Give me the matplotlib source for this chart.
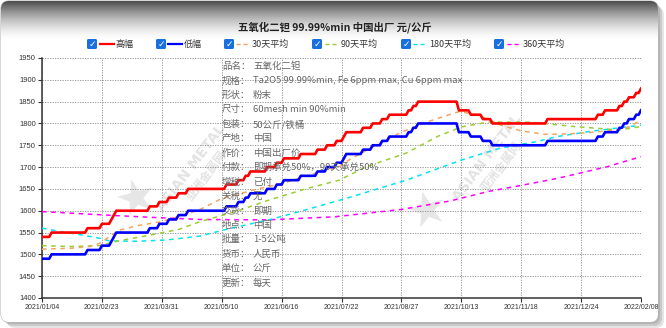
import numpy as np
import matplotlib
matplotlib.use('Agg')
import matplotlib.pyplot as plt
from matplotlib.patches import FancyBboxPatch

plt.rcParams['font.family'] = ['Noto Sans CJK SC', 'DejaVu Sans']

# x 轴标签（每 25 个交易日一个）
dates = ['2021/01/04', '2021/02/23', '2021/03/31', '2021/05/10', '2021/06/16', '2021/07/22',
         '2021/08/27', '2021/10/13', '2021/11/18', '2021/12/24', '2022/02/08']
n_days = 251

# 高幅 / 低幅：阶梯价格（起始序号, 价格）
high_start = [0, 4, 19, 25, 29, 30, 31, 45, 49, 53, 57, 61, 77, 82, 85, 87, 94, 98, 101, 108, 115,
              119, 123, 126, 127, 134, 138, 142, 145, 153, 155, 157, 174, 179, 184, 188, 211, 232,
              235, 241, 243, 245, 248, 250]
high_val = [1540, 1550, 1560, 1570, 1580, 1590, 1600, 1610, 1620, 1630, 1640, 1650, 1660, 1670, 1680,
            1690, 1700, 1710, 1720, 1730, 1740, 1750, 1760, 1770, 1780, 1790, 1800, 1810, 1820, 1830,
            1840, 1850, 1830, 1820, 1810, 1800, 1810, 1820, 1830, 1840, 1850, 1860, 1870, 1880]
low_start = high_start
low_val = [1490, 1500, 1510, 1520, 1530, 1540, 1550, 1560, 1570, 1580, 1590, 1600, 1610, 1620, 1630,
           1640, 1650, 1660, 1670, 1680, 1690, 1700, 1710, 1720, 1730, 1740, 1750, 1760, 1770, 1780,
           1790, 1800, 1780, 1770, 1760, 1750, 1760, 1770, 1780, 1790, 1800, 1810, 1820, 1830]

# 均线（读图取样点）
ma30_x = [0, 12, 20, 24, 28, 32, 40, 50, 60, 66, 75, 90, 100, 113, 124, 128, 142, 150, 159, 167,
          174, 180, 186, 192, 200, 210, 220, 230, 240, 245, 250]
ma30_y = [1512, 1514, 1518, 1525, 1540, 1555, 1566, 1575, 1592, 1603, 1628, 1650, 1662, 1684, 1700,
          1716, 1758, 1780, 1800, 1815, 1827, 1822, 1810, 1795, 1783, 1775, 1776, 1780, 1785, 1792, 1808]
ma90_x = [0, 12, 24, 32, 45, 57, 66, 82, 95, 110, 124, 135, 152, 165, 175, 186, 204, 222, 241, 250]
ma90_y = [1520, 1518, 1520, 1531, 1544, 1557, 1575, 1600, 1625, 1650, 1670, 1700, 1732, 1770, 1792,
          1803, 1803, 1793, 1785, 1793]
ma180_x = [0, 8, 16, 24, 28, 40, 52, 66, 76, 96, 112, 128, 152, 175, 191, 206, 215, 229, 250]
ma180_y = [1560, 1552, 1545, 1537, 1531, 1530, 1533, 1542, 1556, 1581, 1605, 1630, 1670, 1716, 1743,
           1758, 1770, 1782, 1796]
ma360_x = [0, 27, 45, 66, 94, 122, 150, 170, 187, 200, 215, 236, 250]
ma360_y = [1598, 1590, 1585, 1580, 1579, 1586, 1603, 1622, 1645, 1658, 1674, 1701, 1724]

info_keys = ['品名：', '规格：', '形状：', '尺寸：', '包装：', '产地：', '作价：', '付款：',
             '增税：', '关税：', '交货：', '地点：', '批量：', '货币：', '单位：', '更新：']
info_vals = ['五氧化二钽', 'Ta2O5 99.99%min, Fe 6ppm max, Cu 6ppm max', '粉末', '60mesh min 90%min',
             '50公斤/铁桶', '中国', '中国出厂价', '即期承兑50%，90天承兑50%', '已付', '无', '即期',
             '中国', '1-5公吨', '人民币', '公斤', '每天']


def expand(starts, vals, n):
    out = np.empty(n)
    for i, s in enumerate(starts):
        e = starts[i + 1] if i + 1 < len(starts) else n
        out[s:e] = vals[i]
    return out


high = expand(high_start, high_val, n_days)
low = expand(low_start, low_val, n_days)

W, H = 666, 328
fig = plt.figure(figsize=(W / 100, H / 100), dpi=100)

# 背景面板
bg = fig.add_axes([0, 0, 1, 1], zorder=-5)
bg.set_xlim(0, W)
bg.set_ylim(H, 0)
bg.axis('off')
for k, a in [(6, 0.25), (4, 0.35), (2, 0.45)]:
    bg.add_patch(FancyBboxPatch((1 + k, 1 + k), 657, 321, boxstyle='round,pad=0,rounding_size=8',
                                fc='#9a9a9a', ec='none', alpha=a))
panel = FancyBboxPatch((1, 1), 657, 321, boxstyle='round,pad=0,rounding_size=8',
                       fc='white', ec='#b8b8b8', lw=0.8)
bg.add_patch(panel)
yy = np.arange(H)
shade = np.where(yy < 40, 1 - 0.72 * np.clip(1 - yy / 40, 0, 1) ** 1.6, 1.0)
grad = np.repeat(shade[:, None, None], 3, axis=2)
im = bg.imshow(grad, extent=(0, W, H, 0), aspect='auto', zorder=1)
im.set_clip_path(panel)

# 水印
for sx, sy, tx, ty, cx, cy in [(137, 200, 191, 168, 207, 176), (428, 212, 487, 158, 502, 167)]:
    bg.text(sx, sy, '★', fontsize=34, color='#e6e6e6', ha='center', va='center',
            family='DejaVu Sans', rotation=15, zorder=2)
    bg.text(tx, ty, 'ASIAN METAL', fontsize=10, fontweight='bold', color='#e3e3e3', ha='center',
            va='center', rotation=53, family='DejaVu Sans', zorder=2)
    bg.text(cx, cy, '亚洲金属网', fontsize=8.5, fontweight='bold', color='#e3e3e3', ha='center',
            va='center', rotation=53, zorder=2)

# 标题
fig.text(335 / W, 1 - 27 / H, '五氧化二钽 99.99%min 中国出厂 元/公斤', ha='center', va='center',
         fontsize=7.5, fontweight='bold', color='#222222')

# 图例（带勾选框）
legend_items = [(92, 100, 115.5, '高幅', '#ff0000', '-'),
                (161, 168, 183.5, '低幅', '#0000ff', '-'),
                (229, 236, 252, '30天平均', '#f4a460', '--'),
                (317, 324.5, 340.5, '90天平均', '#9acd32', '--'),
                (406, 413, 429, '180天平均', '#00e5ee', '--'),
                (499, 507, 522.5, '360天平均', '#ff00ff', '--')]
ly = 44
for cbx, lx, tx, lab, col, ls in legend_items:
    bg.add_patch(FancyBboxPatch((cbx - 5, ly - 5), 10, 10, boxstyle='round,pad=0,rounding_size=1.5',
                                fc='#1a6fe0', ec='none', zorder=3))
    bg.text(cbx, ly + 0.5, '✓', color='white', fontsize=6.5, fontweight='bold', ha='center',
            va='center', family='DejaVu Sans', zorder=4)
    if ls == '-':
        bg.plot([lx, lx + 14], [ly, ly], color=col, lw=1.6, zorder=3)
    else:
        bg.plot([lx, lx + 14], [ly, ly], color=col, lw=1.0, ls=(0, (3, 2)), zorder=3)
    bg.text(tx, ly, lab, fontsize=6.5, color='#333333', va='center', ha='left', zorder=3)

# 主图
ax = fig.add_axes([42 / W, 1 - 298 / H, (641 - 42) / W, (298 - 58) / H])
ax.patch.set_visible(False)
x = np.arange(n_days)
ax.plot(ma360_x, ma360_y, color='#ff00ff', lw=1.1, ls=(0, (3, 3)), zorder=3)
ax.plot(ma180_x, ma180_y, color='#00e5ee', lw=1.1, ls=(0, (3, 3)), zorder=3)
ax.plot(ma90_x, ma90_y, color='#9acd32', lw=1.1, ls=(0, (3, 3)), zorder=3)
ax.plot(ma30_x, ma30_y, color='#f4a460', lw=1.1, ls=(0, (3, 3)), zorder=3)
ax.plot(x, low, color='#0000ff', lw=1.9, zorder=4)
ax.plot(x, high, color='#ff0000', lw=1.9, zorder=4)

ax.set_xlim(0, 250)
ax.set_ylim(1400, 1950)
ax.set_xticks(range(0, 251, 25))
ax.set_xticklabels(dates, fontsize=5, family='Liberation Sans', color='#333333')
ax.set_yticks(np.arange(1400, 1951, 50))
ax.set_yticklabels([str(v) for v in range(1400, 1951, 50)], fontsize=5.5,
                   family='Liberation Sans', color='#333333')
ax.tick_params(length=3, width=0.8, color='#333333', pad=1.5)
ax.grid(True, color='#8a8a8a', ls=(0, (1.5, 1.5)), lw=0.6)
ax.set_axisbelow(True)
for s in ['top', 'right']:
    ax.spines[s].set_visible(False)
for s in ['left', 'bottom']:
    ax.spines[s].set_color('#333333')
    ax.spines[s].set_linewidth(1.1)

# 产品信息
for i, (k, v) in enumerate(zip(info_keys, info_vals)):
    y = 1 - (66.5 + i * 14.45) / H
    fig.text(222 / W, y, k, fontsize=6.8, color='#666666', va='center', ha='left', zorder=6)
    fig.text(253 / W, y, v, fontsize=6.8, color='#666666', va='center', ha='left', zorder=6)

fig.savefig('out.png', dpi=100)
